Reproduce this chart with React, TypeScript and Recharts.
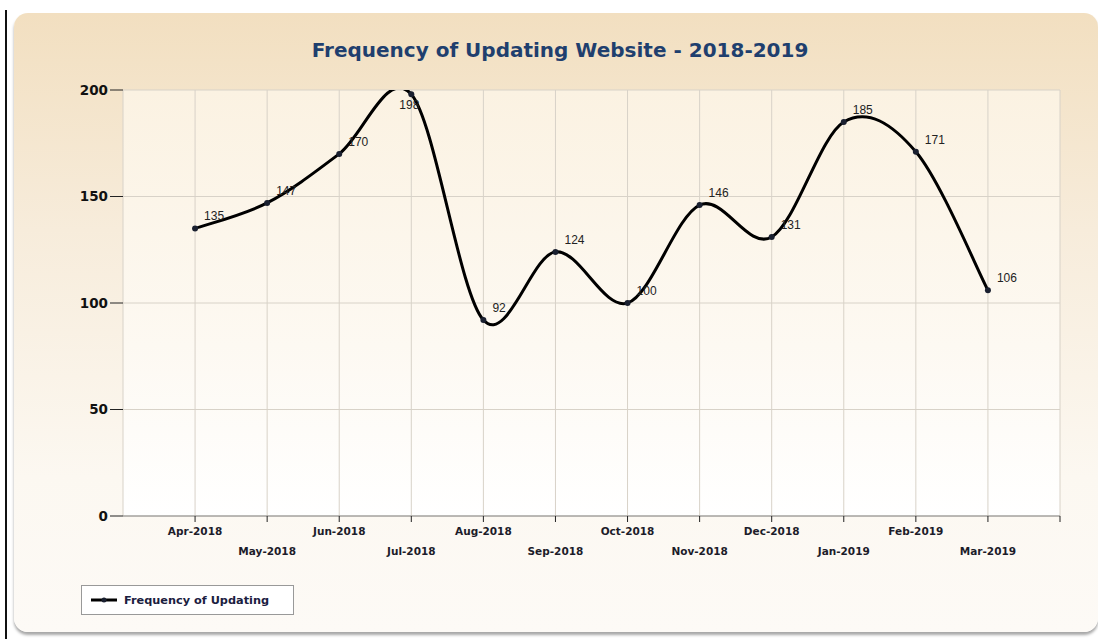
import React from "react";
import { LineChart, Line, XAxis, YAxis, CartesianGrid, LabelList } from "recharts";

// ─── Data ────────────────────────────────────────────────────────────────────

const months = [
  "Apr-2018",
  "May-2018",
  "Jun-2018",
  "Jul-2018",
  "Aug-2018",
  "Sep-2018",
  "Oct-2018",
  "Nov-2018",
  "Dec-2018",
  "Jan-2019",
  "Feb-2019",
  "Mar-2019",
];
const updates = [135, 147, 170, 198, 92, 124, 100, 146, 131, 185, 171, 106];
const yTicks = [0, 50, 100, 150, 200];

const data = months.map((m, i) => ({ pos: i + 1, month: m, value: updates[i] }));
const xTicks = [...months.map((_, i) => i + 1), months.length + 1];

const FONT = "'DejaVu Sans', Verdana, sans-serif";
const PLOT_TOP = 90;

// cardinal (catmull-rom like) curve, overshoots like the original chart
const cardinalCurve = (context: any) => {
  let pts: number[][] = [];
  return {
    areaStart() {},
    areaEnd() {},
    lineStart() {
      pts = [];
    },
    point(x: number, y: number) {
      pts.push([+x, +y]);
    },
    lineEnd() {
      if (!pts.length) return;
      context.moveTo(pts[0][0], pts[0][1]);
      for (let i = 0; i < pts.length - 1; i++) {
        const p0 = pts[i - 1] || pts[i];
        const p1 = pts[i];
        const p2 = pts[i + 1];
        const p3 = pts[i + 2] || p2;
        context.bezierCurveTo(
          p1[0] + (p2[0] - p0[0]) / 6,
          p1[1] + (p2[1] - p0[1]) / 6,
          p2[0] - (p3[0] - p1[0]) / 6,
          p2[1] - (p3[1] - p1[1]) / 6,
          p2[0],
          p2[1]
        );
      }
    },
  };
};

function MonthTick(props: any) {
  const { x, y, payload } = props;
  const idx = payload.value - 1;
  if (idx < 0 || idx >= months.length) return null;
  const row = idx % 2;
  return (
    <text
      x={x}
      y={y + 11 + row * 20}
      textAnchor="middle"
      fontFamily={FONT}
      fontWeight="bold"
      fontSize={10.5}
      fill="#1c1c2a"
    >
      {months[idx]}
    </text>
  );
}

function ValueLabel(props: any) {
  const { x, y, value } = props;
  // near the top edge the label is pushed inside the plot
  const tooHigh = y - 20 < PLOT_TOP;
  return (
    <text
      x={tooHigh ? x - 12 : x + 9}
      y={tooHigh ? y + 15 : y - 8}
      fontFamily="'Liberation Sans', Arial, sans-serif"
      fontSize={12}
      fill="#222"
    >
      {value}
    </text>
  );
}

export default function App() {
  return (
    <div style={{ position: "absolute", left: 0, top: 0, width: 1098, height: 639, background: "#fff", overflow: "hidden" }}>
      <div style={{ position: "absolute", left: 5, top: 10, width: 2, height: 629, background: "#111" }} />
      <div
        style={{
          position: "absolute",
          left: 14,
          top: 13,
          width: 1084,
          height: 619,
          borderRadius: 14,
          background: "linear-gradient(to bottom, #f2dfc0 0%, #f7ecdb 35%, #fcf8f1 75%, #fdfaf6 100%)",
          boxShadow: "0 3px 3px rgba(0,0,0,0.35)",
        }}
      />
      <div
        style={{
          position: "absolute",
          left: 0,
          top: 38,
          width: 1120,
          textAlign: "center",
          fontFamily: FONT,
          fontWeight: "bold",
          fontSize: 20,
          color: "#1f3f6e",
        }}
      >
        Frequency of Updating Website - 2018-2019
      </div>
      <div style={{ position: "absolute", left: 0, top: 0 }}>
        <LineChart width={1098} height={639} data={data} margin={{ top: PLOT_TOP, right: 38, bottom: 78, left: 63 }}>
          <defs>
            <linearGradient id="plotBg" x1="0" y1="0" x2="0" y2="1">
              <stop offset="0%" stopColor="#fbf2e2" />
              <stop offset="60%" stopColor="#fdf9f2" />
              <stop offset="100%" stopColor="#ffffff" />
            </linearGradient>
          </defs>
          <CartesianGrid stroke="#d8d2c8" fill="url(#plotBg)" />
          <XAxis
            type="number"
            dataKey="pos"
            domain={[0, months.length + 1]}
            ticks={xTicks}
            interval={0}
            height={45}
            axisLine={{ stroke: "#888" }}
            tickLine={{ stroke: "#222" }}
            tickSize={6}
            tick={<MonthTick />}
          />
          <YAxis
            domain={[0, 200]}
            ticks={yTicks}
            allowDataOverflow
            width={60}
            axisLine={false}
            tickLine={{ stroke: "#222" }}
            tickSize={13}
            tick={{ fontFamily: FONT, fontWeight: "bold", fontSize: 13.5, fill: "#111" }}
          />
          <Line
            type={cardinalCurve as any}
            dataKey="value"
            stroke="#000"
            strokeWidth={3}
            dot={{ r: 3, fill: "#1a2030", stroke: "#1a2030", strokeWidth: 0 }}
            isAnimationActive={false}
          >
            <LabelList dataKey="value" content={<ValueLabel />} />
          </Line>
        </LineChart>
      </div>
      <div
        style={{
          position: "absolute",
          left: 81,
          top: 585,
          width: 211,
          height: 28,
          background: "#fff",
          border: "1px solid #999",
          display: "flex",
          alignItems: "center",
          fontFamily: FONT,
          fontWeight: "bold",
          fontSize: 11.3,
          color: "#1a2040",
        }}
      >
        <svg width={42} height={10} style={{ marginLeft: 9 }}>
          <line x1={0} y1={5} x2={26} y2={5} stroke="#000" strokeWidth={3} />
          <circle cx={13} cy={5} r={2.5} fill="#1a2030" />
        </svg>
        <span style={{ marginLeft: -9 }}>Frequency of Updating</span>
      </div>
    </div>
  );
}
